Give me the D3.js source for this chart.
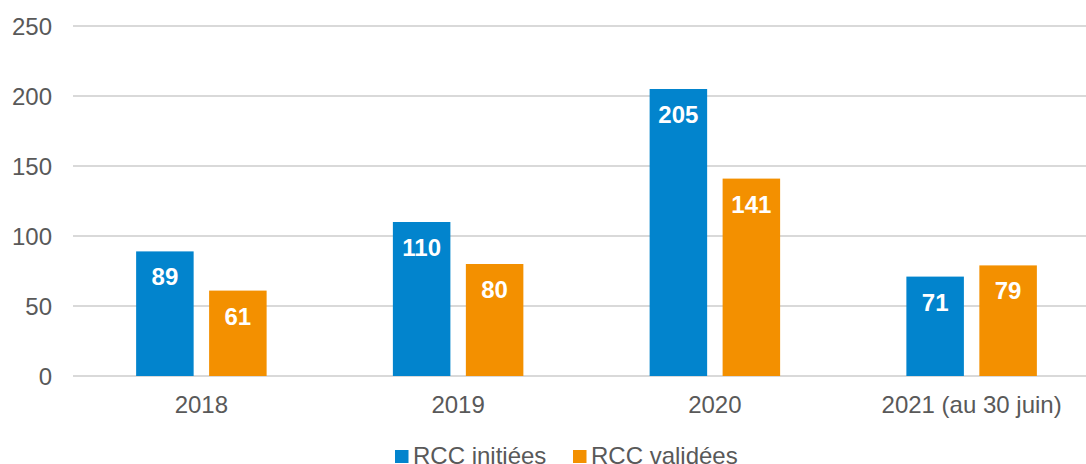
<!DOCTYPE html>
<html>
<head>
<meta charset="utf-8">
<title>RCC</title>
<style>
body { margin: 0; background: #ffffff; }
svg { display: block; font-family: "Liberation Sans", Arial, sans-serif; }
.grid line { stroke: #d9d9d9; stroke-width: 1.5px; shape-rendering: crispEdges; }
.axis text { fill: #595959; font-size: 24px; }
.label { fill: #ffffff; font-size: 24px; font-weight: bold; }
.legend text { fill: #595959; font-size: 24px; }
</style>
</head>
<body>
<script src="https://d3js.org/d3.v7.min.js"></script>
<script>
'use strict';
const categories = ['2018', '2019', '2020', '2021 (au 30 juin)'];
const seriesNames = ['RCC initiées', 'RCC validées'];
const initiees = [89, 110, 205, 71];
const validees = [61, 80, 141, 79];
const yTicks = [0, 50, 100, 150, 200, 250];
const colors = ['#0284CD', '#F39000'];

const W = 1086, H = 464;
const svg = d3.select('body').append('svg')
	.attr('width', W)
	.attr('height', H);

// scales
const x0 = d3.scaleBand().domain(categories).range([73, 1100]);
const x1 = d3.scaleBand().domain(seriesNames)
	.range([0, x0.bandwidth()])
	.paddingInner(0.212)
	.paddingOuter(0.865);
const y = d3.scaleLinear().domain([0, 250]).range([376, 26]);

// gridlines
svg.append('g').attr('class', 'grid')
	.selectAll('line')
	.data(yTicks)
	.enter().append('line')
	.attr('x1', 73).attr('x2', W)
	.attr('y1', d => y(d)).attr('y2', d => y(d));

// y labels
svg.append('g').attr('class', 'axis')
	.selectAll('text')
	.data(yTicks)
	.enter().append('text')
	.attr('x', 52)
	.attr('y', d => y(d) + 8.5)
	.attr('text-anchor', 'end')
	.text(d => d);

// x labels
svg.append('g').attr('class', 'axis')
	.selectAll('text')
	.data(categories)
	.enter().append('text')
	.attr('x', d => x0(d) + x0.bandwidth() / 2)
	.attr('y', 413)
	.attr('text-anchor', 'middle')
	.text(d => d);

// bars
const rows = categories.map((c, i) => ({cat: c, vals: [initiees[i], validees[i]]}));
const groups = svg.selectAll('.grp')
	.data(rows)
	.enter().append('g')
	.attr('class', 'grp')
	.attr('transform', d => 'translate(' + x0(d.cat) + ',0)');

groups.selectAll('rect')
	.data(d => d.vals.map((v, j) => ({s: seriesNames[j], v: v, j: j})))
	.enter().append('rect')
	.attr('x', d => x1(d.s))
	.attr('width', x1.bandwidth())
	.attr('y', d => y(d.v))
	.attr('height', d => y(0) - y(d.v))
	.attr('fill', d => colors[d.j]);

groups.selectAll('.label')
	.data(d => d.vals.map((v, j) => ({s: seriesNames[j], v: v})))
	.enter().append('text')
	.attr('class', 'label')
	.attr('x', d => x1(d.s) + x1.bandwidth() / 2)
	.attr('y', d => y(d.v) + 34)
	.attr('text-anchor', 'middle')
	.text(d => d.v);

// legend
const legendX = [395, 573];
const legend = svg.append('g').attr('class', 'legend')
	.selectAll('g')
	.data(seriesNames)
	.enter().append('g')
	.attr('transform', (d, i) => 'translate(' + legendX[i] + ',0)');
legend.append('rect')
	.attr('x', 0).attr('y', 450)
	.attr('width', 13.5).attr('height', 13)
	.attr('fill', (d, i) => colors[i]);
legend.append('text')
	.attr('x', 18).attr('y', 464)
	.text(d => d);
</script>
</body>
</html>
